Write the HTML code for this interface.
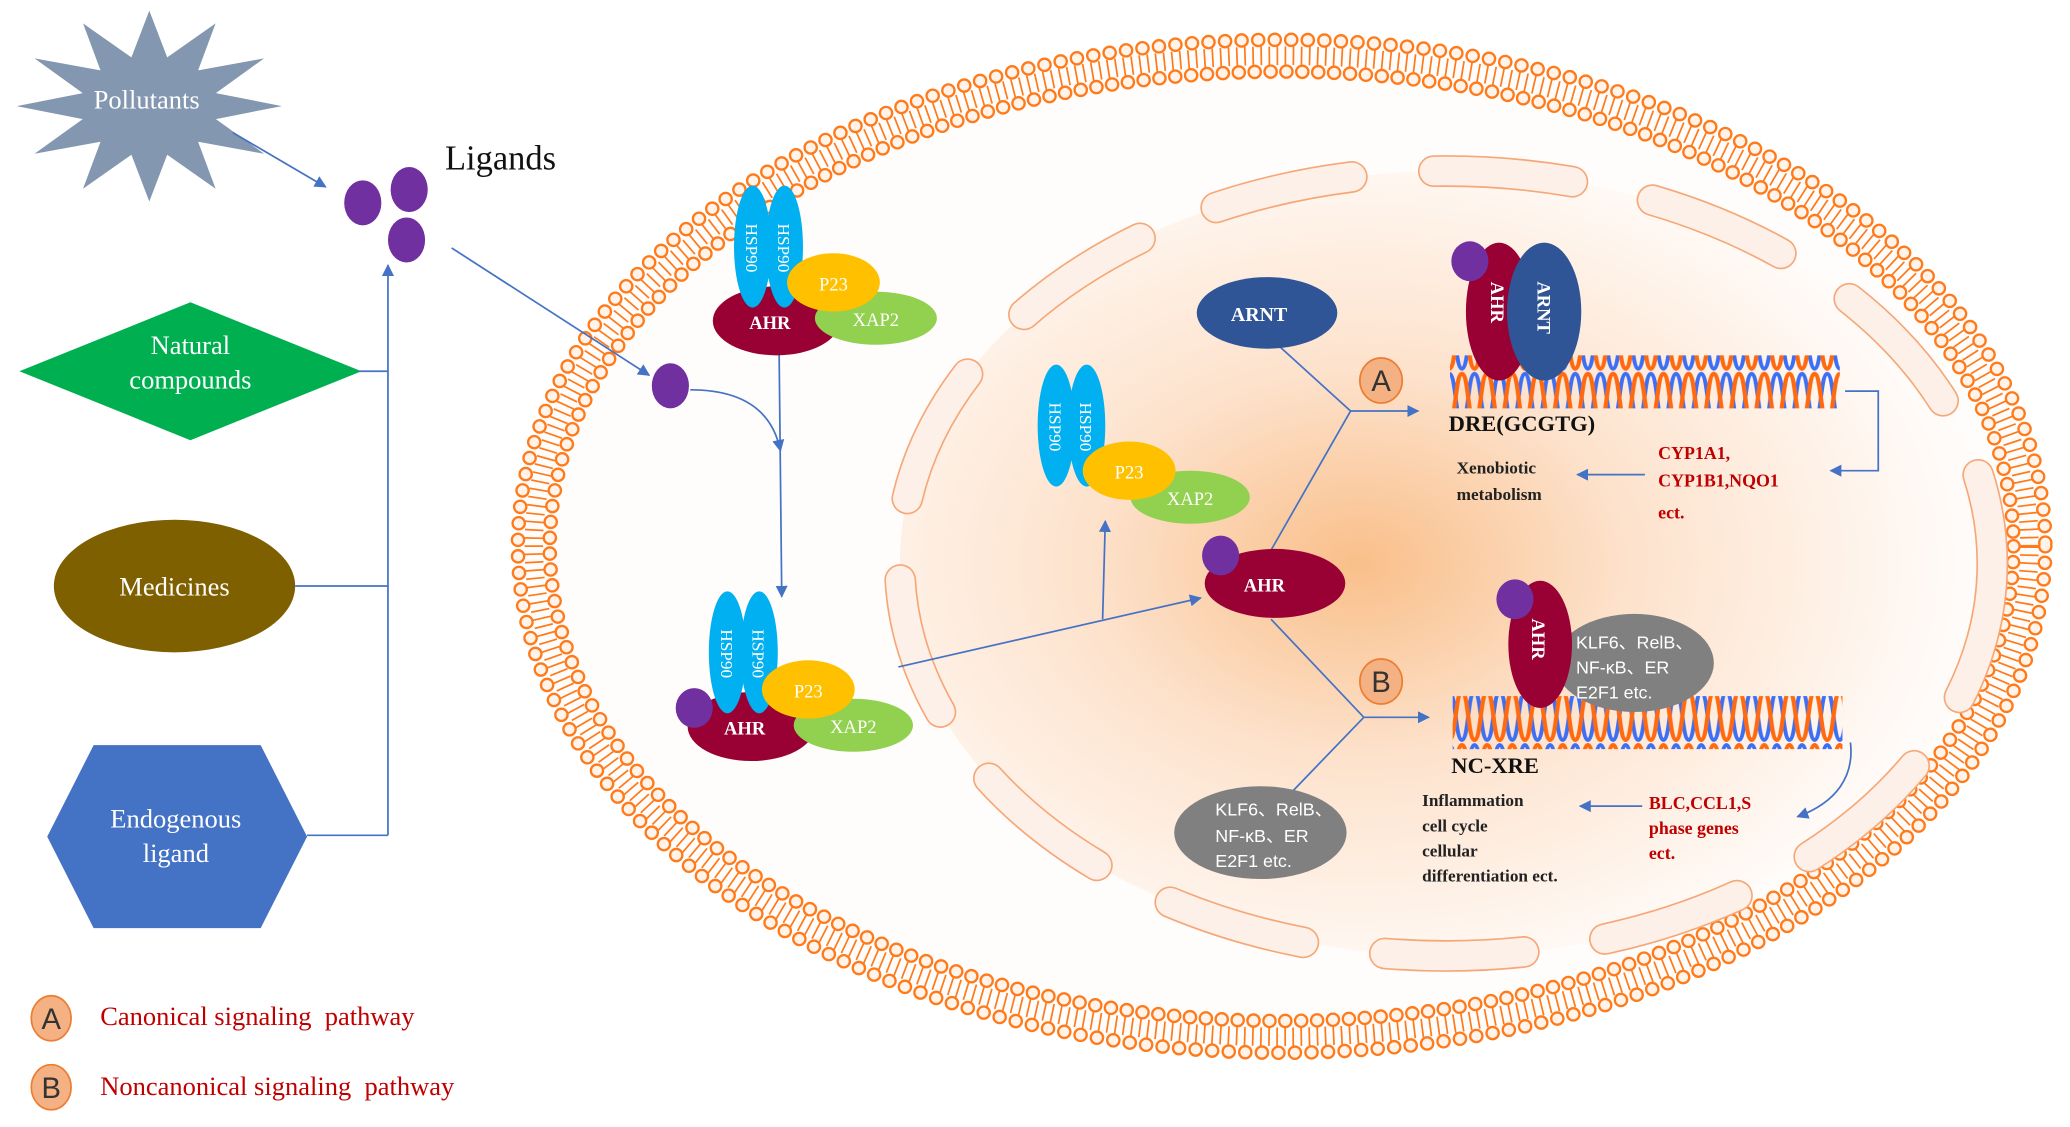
<!DOCTYPE html>
<html><head><meta charset="utf-8"><style>html,body{margin:0;padding:0;background:#fff}svg{display:block}</style></head>
<body>
<svg width="2070" height="1127" viewBox="0 0 1560 850" xmlns="http://www.w3.org/2000/svg" font-family="Liberation Serif, serif">
<defs>
<marker id="ar" viewBox="0 0 10 10" refX="9" refY="5" markerWidth="7" markerHeight="7" orient="auto"><path d="M0,0L10,5L0,10z" fill="#4472c4"/></marker>
<radialGradient id="ng" cx="0.42" cy="0.5" r="0.55"><stop offset="0" stop-color="#f9bf8a"/><stop offset="0.45" stop-color="#fde2cc"/><stop offset="1" stop-color="#fffbf8"/></radialGradient>
<pattern id="dna" width="19" height="40" patternUnits="userSpaceOnUse">
<path d="M0,38 C5,38 4.5,2 9.5,2 C14.5,2 14,38 19,38" fill="none" stroke="#3d6ff5" stroke-width="3"/>
<path d="M0,2 C5,2 4.5,38 9.5,38 C14.5,38 14,2 19,2" fill="none" stroke="#ff6a10" stroke-width="3.2"/>
</pattern>
</defs>

<!-- cell membrane -->
<ellipse cx="966" cy="412" rx="576" ry="382" fill="#fffdfc" stroke="#ff7a1a" stroke-width="11" stroke-dasharray="0 12.5" stroke-linecap="round"/>
<ellipse cx="966" cy="412" rx="576" ry="382" fill="none" stroke="#fff3ea" stroke-width="7.5" stroke-dasharray="0 12.5" stroke-linecap="round"/>
<ellipse cx="966" cy="412" rx="552" ry="358" fill="none" stroke="#ff7a1a" stroke-width="11" stroke-dasharray="0 12" stroke-linecap="round"/>
<ellipse cx="966" cy="412" rx="552" ry="358" fill="none" stroke="#fff3ea" stroke-width="7.5" stroke-dasharray="0 12" stroke-linecap="round"/>
<ellipse cx="966" cy="412" rx="564" ry="370" fill="none" stroke="#ff7a1a" stroke-width="14" stroke-dasharray="1.3 4.8"/>

<!-- nucleus -->
<ellipse cx="1090" cy="425" rx="412" ry="296" fill="url(#ng)"/>
<ellipse cx="1090" cy="425" rx="412" ry="296" fill="none" stroke="#f6a777" stroke-width="24" stroke-dasharray="105 62" stroke-linecap="round"/>
<ellipse cx="1090" cy="425" rx="412" ry="296" fill="none" stroke="#fdf0e8" stroke-width="21.5" stroke-dasharray="105 62" stroke-linecap="round"/>

<!-- left sources -->
<polygon points="212,80 162.2,89.8 198.6,116 148.8,106.9 162,142.4 125.5,116.7 112,152 98.5,116.7 62,142.4 75.2,106.9 25.4,116 61.8,89.8 12,80 61.8,70.2 25.4,44 75.2,53.1 62,17.6 98.5,43.3 112,8 125.5,43.3 162,17.6 148.8,53.1 198.6,44 162.2,70.2" fill="#8497b0"/>
<text x="110" y="82" fill="#fff" font-size="20" text-anchor="middle">Pollutants</text>
<polygon points="14,280 143,228 272,280 143,332" fill="#00b050"/>
<text x="143" y="267" fill="#fff" font-size="20" text-anchor="middle">Natural</text>
<text x="143" y="293" fill="#fff" font-size="20" text-anchor="middle">compounds</text>
<ellipse cx="131" cy="442" rx="91" ry="50" fill="#7f6000"/>
<text x="131" y="449" fill="#fff" font-size="20" text-anchor="middle">Medicines</text>
<polygon points="35,631 70,562 196,562 231,631 196,700 70,700" fill="#4472c4"/>
<text x="132" y="624" fill="#fff" font-size="20" text-anchor="middle">Endogenous</text>
<text x="132" y="650" fill="#fff" font-size="20" text-anchor="middle">ligand</text>

<g stroke="#4472c4" stroke-width="1.3" fill="none">
<line x1="175" y1="100" x2="245" y2="141" marker-end="url(#ar)"/>
<line x1="292" y1="630" x2="292" y2="200" marker-end="url(#ar)"/>
<line x1="270" y1="280" x2="292" y2="280"/>
<line x1="222" y1="442" x2="292" y2="442"/>
<line x1="231" y1="630" x2="292" y2="630"/>
<line x1="340" y1="187" x2="489" y2="283" marker-end="url(#ar)"/>
<path d="M520,294 C560,294 582,310 588,340" marker-end="url(#ar)"/>
<line x1="587" y1="265" x2="589" y2="450" marker-end="url(#ar)"/>
<line x1="677" y1="503" x2="905" y2="451" marker-end="url(#ar)"/>
<line x1="831" y1="467" x2="833" y2="393" marker-end="url(#ar)"/>
<line x1="963" y1="260" x2="1018" y2="310"/>
<line x1="958" y1="415" x2="1018" y2="310"/>
<line x1="1018" y1="310" x2="1069" y2="310" marker-end="url(#ar)"/>
<line x1="958" y1="467" x2="1028" y2="541"/>
<line x1="975" y1="596" x2="1028" y2="541"/>
<line x1="1028" y1="541" x2="1077" y2="541" marker-end="url(#ar)"/>
<path d="M1391,295 H1416 V355 H1380" marker-end="url(#ar)"/>
<line x1="1240" y1="358" x2="1189" y2="358" marker-end="url(#ar)"/>
<path d="M1395,560 C1398,585 1385,605 1355,616" marker-end="url(#ar)"/>
<line x1="1238" y1="608" x2="1191" y2="608" marker-end="url(#ar)"/>
</g>

<g fill="#7030a0">
<ellipse cx="273" cy="153" rx="14" ry="17"/><ellipse cx="308" cy="143" rx="14" ry="17"/><ellipse cx="306" cy="181" rx="14" ry="17"/>
<ellipse cx="505" cy="291" rx="14" ry="17"/>
</g>
<text x="335" y="128" font-size="26" fill="#111">Ligands</text>

<!-- complex 1 -->
<ellipse cx="585" cy="242" rx="48" ry="26" fill="#990033"/>
<ellipse cx="567" cy="186" rx="14" ry="46" fill="#00b0f0"/>
<ellipse cx="591" cy="186" rx="14" ry="46" fill="#00b0f0"/>
<text transform="translate(562,187) rotate(90)" fill="#fff" font-size="13" text-anchor="middle">HSP90</text>
<text transform="translate(586,187) rotate(90)" fill="#fff" font-size="13" text-anchor="middle">HSP90</text>
<ellipse cx="660" cy="240" rx="46" ry="20" fill="#92d050"/>
<ellipse cx="628" cy="213" rx="35" ry="22" fill="#ffc000"/>
<text x="580" y="248" fill="#fff" font-size="14" font-weight="bold" text-anchor="middle">AHR</text>
<text x="628" y="219" fill="#fff" font-size="14" text-anchor="middle">P23</text>
<text x="660" y="246" fill="#fff" font-size="14" text-anchor="middle">XAP2</text>

<!-- complex 2 -->
<ellipse cx="566" cy="548" rx="48" ry="26" fill="#990033"/>
<ellipse cx="548" cy="492" rx="14" ry="46" fill="#00b0f0"/>
<ellipse cx="572" cy="492" rx="14" ry="46" fill="#00b0f0"/>
<text transform="translate(543,493) rotate(90)" fill="#fff" font-size="13" text-anchor="middle">HSP90</text>
<text transform="translate(567,493) rotate(90)" fill="#fff" font-size="13" text-anchor="middle">HSP90</text>
<ellipse cx="643" cy="547" rx="45" ry="20" fill="#92d050"/>
<ellipse cx="609" cy="520" rx="35" ry="22" fill="#ffc000"/>
<ellipse cx="523" cy="534" rx="14" ry="15" fill="#7030a0"/>
<text x="561" y="554" fill="#fff" font-size="14" font-weight="bold" text-anchor="middle">AHR</text>
<text x="609" y="526" fill="#fff" font-size="14" text-anchor="middle">P23</text>
<text x="643" y="553" fill="#fff" font-size="14" text-anchor="middle">XAP2</text>

<!-- nucleus complex -->
<ellipse cx="796" cy="321" rx="14" ry="46" fill="#00b0f0"/>
<ellipse cx="819" cy="321" rx="14" ry="46" fill="#00b0f0"/>
<text transform="translate(791,322) rotate(90)" fill="#fff" font-size="13" text-anchor="middle">HSP90</text>
<text transform="translate(814,322) rotate(90)" fill="#fff" font-size="13" text-anchor="middle">HSP90</text>
<ellipse cx="897" cy="375" rx="45" ry="20" fill="#92d050"/>
<ellipse cx="851" cy="355" rx="35" ry="22" fill="#ffc000"/>
<text x="851" y="361" fill="#fff" font-size="14" text-anchor="middle">P23</text>
<text x="897" y="381" fill="#fff" font-size="14" text-anchor="middle">XAP2</text>
<ellipse cx="961" cy="440" rx="53" ry="26" fill="#990033"/>
<ellipse cx="920" cy="419" rx="14" ry="15" fill="#7030a0"/>
<text x="953" y="446" fill="#fff" font-size="14" font-weight="bold" text-anchor="middle">AHR</text>
<ellipse cx="955" cy="236" rx="53" ry="27" fill="#2f5597"/>
<text x="949" y="242" fill="#fff" font-size="15" font-weight="bold" text-anchor="middle">ARNT</text>
<ellipse cx="950" cy="628" rx="65" ry="35" fill="#808080"/>
<g fill="#fff" font-family="Liberation Sans, Noto Sans CJK SC, sans-serif" font-size="13.5">
<text x="916" y="615">KLF6、RelB、</text><text x="916" y="635">NF-κB、ER</text><text x="916" y="654">E2F1 etc.</text>
</g>

<g font-family="Liberation Sans, sans-serif" font-size="22" fill="#333">
<ellipse cx="1041" cy="287" rx="16" ry="17" fill="#f4b183" stroke="#ed7d31" stroke-width="1.3"/>
<text x="1041" y="295" text-anchor="middle">A</text>
<ellipse cx="1041" cy="514" rx="16" ry="17" fill="#f4b183" stroke="#ed7d31" stroke-width="1.3"/>
<text x="1041" y="522" text-anchor="middle">B</text>
</g>

<!-- DNA -->
<rect x="1093" y="268" width="294" height="40" fill="url(#dna)"/>
<rect x="1095" y="525" width="294" height="40" fill="url(#dna)"/>
<ellipse cx="1130" cy="235" rx="25" ry="52" fill="#990033"/>
<ellipse cx="1164" cy="235" rx="28" ry="52" fill="#2f5597"/>
<ellipse cx="1108" cy="197" rx="14" ry="15" fill="#7030a0"/>
<text transform="translate(1124,228) rotate(90)" fill="#fff" font-size="14" font-weight="bold" text-anchor="middle">AHR</text>
<text transform="translate(1159,232) rotate(90)" fill="#fff" font-size="14" font-weight="bold" text-anchor="middle">ARNT</text>
<text x="1092" y="325" font-size="17" font-weight="bold" fill="#111">DRE(GCGTG)</text>
<g font-size="13.5" font-weight="bold" fill="#c00000">
<text x="1250" y="346">CYP1A1,</text><text x="1250" y="367">CYP1B1,NQO1</text><text x="1250" y="391">ect.</text>
<text x="1243" y="610">BLC,CCL1,S</text><text x="1243" y="629">phase genes</text><text x="1243" y="648">ect.</text>
</g>
<g font-size="13" font-weight="bold" fill="#222">
<text x="1098" y="357">Xenobiotic</text><text x="1098" y="377">metabolism</text>
<text x="1072" y="608">Inflammation</text><text x="1072" y="627">cell cycle</text><text x="1072" y="646">cellular</text><text x="1072" y="665">differentiation ect.</text>
</g>

<ellipse cx="1232" cy="500" rx="60" ry="37" fill="#808080"/>
<ellipse cx="1161" cy="486" rx="24" ry="48" fill="#990033"/>
<ellipse cx="1142" cy="452" rx="14" ry="15" fill="#7030a0"/>
<text transform="translate(1155,482) rotate(90)" fill="#fff" font-size="14" font-weight="bold" text-anchor="middle">AHR</text>
<g fill="#fff" font-family="Liberation Sans, Noto Sans CJK SC, sans-serif" font-size="13.5">
<text x="1188" y="489">KLF6、RelB、</text><text x="1188" y="508">NF-κB、ER</text><text x="1188" y="527">E2F1 etc.</text>
</g>
<text x="1094" y="583" font-size="17" font-weight="bold" fill="#111">NC-XRE</text>

<!-- legend -->
<g font-family="Liberation Sans, sans-serif" font-size="22" fill="#333">
<ellipse cx="38" cy="768" rx="15" ry="17" fill="#f4b183" stroke="#ed7d31" stroke-width="1.3"/>
<text x="38" y="776" text-anchor="middle">A</text>
<ellipse cx="38" cy="820" rx="15" ry="17" fill="#f4b183" stroke="#ed7d31" stroke-width="1.3"/>
<text x="38" y="828" text-anchor="middle">B</text>
</g>
<text x="75" y="773" font-size="20" fill="#c00000" xml:space="preserve">Canonical signaling  pathway</text>
<text x="75" y="826" font-size="20" fill="#c00000" xml:space="preserve">Noncanonical signaling  pathway</text>
</svg>
</body></html>
